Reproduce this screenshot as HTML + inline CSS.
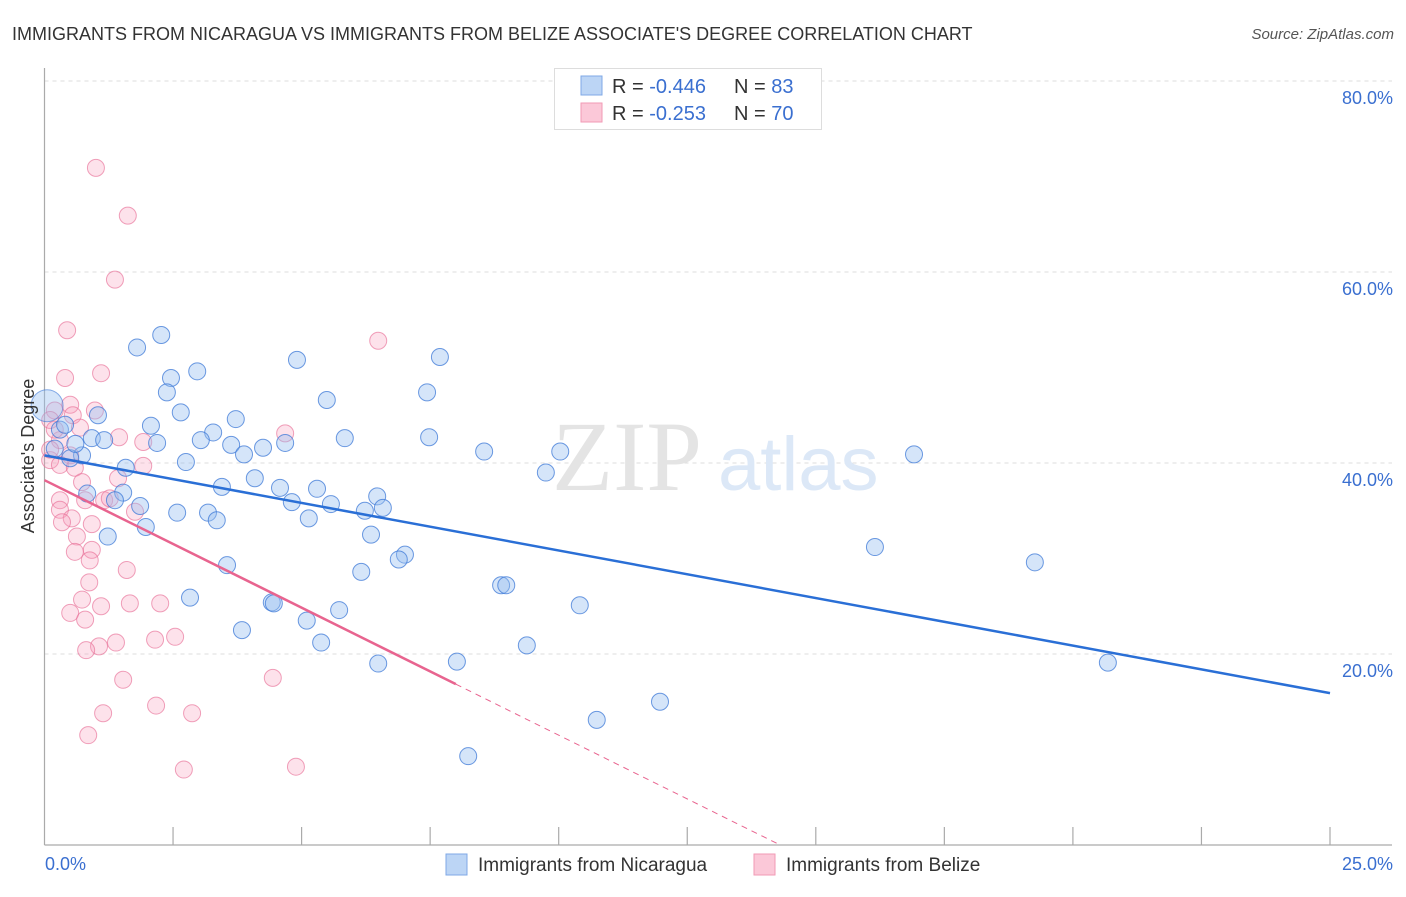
<!DOCTYPE html>
<html><head><meta charset="utf-8">
<style>
html,body{margin:0;padding:0;background:#fff;}
body{width:1406px;height:892px;overflow:hidden;font-family:"Liberation Sans",sans-serif;}
</style></head>
<body>
<svg id="chart" width="1406" height="892" xmlns="http://www.w3.org/2000/svg" font-family="Liberation Sans, sans-serif">
<text x="12" y="40" font-size="18" fill="#333">IMMIGRANTS FROM NICARAGUA VS IMMIGRANTS FROM BELIZE ASSOCIATE'S DEGREE CORRELATION CHART</text>
<text x="1394" y="39" font-size="15" fill="#555" text-anchor="end" font-style="italic">Source: ZipAtlas.com</text>
<g id="grid"></g>
<g>
<text x="552" y="490" font-family="Liberation Serif, serif" font-size="100" fill="#e4e4e4">ZIP</text>
<text x="718" y="490" font-size="76" fill="#dce8f7">atlas</text>
</g>
<line x1="44.5" y1="68" x2="44.5" y2="845" stroke="#aaa" stroke-width="1.2"/>
<line x1="44.5" y1="845" x2="1392" y2="845" stroke="#aaa" stroke-width="1.2"/>
<g id="ticks"></g>
<g id="pink"></g>
<g id="blue"></g>
<g id="lines"></g>
<text transform="translate(34,456) rotate(-90)" font-size="18" fill="#333" text-anchor="middle">Associate's Degree</text>
<text x="45" y="870" font-size="18" fill="#3a6fd0">0.0%</text>
<text x="1393" y="870" font-size="18" fill="#3a6fd0" text-anchor="end">25.0%</text>
<g>
<rect x="554.5" y="68.5" width="267" height="61" fill="#fff" stroke="#ddd"/>
<rect x="581" y="76" width="21" height="19" fill="#bcd5f5" stroke="#7fa8e6"/>
<rect x="581" y="103" width="21" height="19" fill="#fbc8d8" stroke="#f29ab5"/>
<text x="612" y="93" font-size="20" fill="#333">R = <tspan fill="#3a6fd0">-0.446</tspan></text>
<text x="734" y="93" font-size="20" fill="#333">N = <tspan fill="#3a6fd0">83</tspan></text>
<text x="612" y="120" font-size="20" fill="#333">R = <tspan fill="#3a6fd0">-0.253</tspan></text>
<text x="734" y="120" font-size="20" fill="#333">N = <tspan fill="#3a6fd0">70</tspan></text>
</g>
<g>
<rect x="446" y="854" width="21" height="21" fill="#bcd5f5" stroke="#7fa8e6"/>
<text x="478" y="871" font-size="19" fill="#333">Immigrants from Nicaragua</text>
</g>
<g>
<rect x="754" y="854" width="21" height="21" fill="#fbc8d8" stroke="#f29ab5"/>
<text x="786" y="871" font-size="19" fill="#333">Immigrants from Belize</text>
</g>
</svg>
<script>
const yTicks=[20,40,60,80];
const yTickLabels=["20.0%","40.0%","60.0%","80.0%"];
const xTicks=[2.5,5,7.5,10,12.5,15,17.5,20,22.5,25];
const blueX=[2.27,1.80,4.91,7.69,2.97,2.46,2.38,7.44,5.49,2.65,3.72,2.07,1.04,3.28,7.48,5.84,3.04,0.92,1.16,2.19,3.63,4.25,4.68,8.55,10.03,3.88,16.91,0.73,1.58,2.75,9.75,4.09,3.45,4.58,5.30,1.53,0.83,6.47,1.37,1.86,4.81,5.57,6.23,6.58,2.58,3.18,5.14,3.35,1.97,6.35,1.23,16.15,7.01,6.89,19.26,3.55,6.16,8.88,8.98,2.83,10.41,4.42,4.46,5.73,5.10,3.84,5.38,9.38,6.49,8.02,20.68,11.97,10.74,8.24,0.3,0.2,0.5,0.4,0.6];
const blueY=[53.4,52.1,50.8,51.1,49.6,48.9,47.4,47.4,46.6,45.3,44.6,43.9,45.0,43.2,42.7,42.6,42.4,42.6,42.4,42.1,41.9,41.6,42.1,41.2,41.2,40.9,40.9,40.8,39.5,40.1,39.0,38.4,37.5,37.4,37.3,36.9,36.8,36.5,36.1,35.5,35.9,35.7,35.0,35.3,34.8,34.8,34.2,34.0,33.3,32.5,32.3,31.2,30.4,29.9,29.6,29.3,28.6,27.2,27.2,25.9,25.1,25.4,25.3,24.6,23.5,22.5,21.2,20.9,19.0,19.2,19.1,15.0,13.1,9.3,43.5,41.5,40.5,44.0,42.0];
const pinkX=[1.00,1.62,1.37,0.44,6.49,0.40,1.10,0.20,0.50,0.98,0.55,0.11,0.69,4.68,1.45,1.92,0.30,0.50,0.11,0.30,0.59,1.92,1.43,0.73,0.30,0.79,1.16,1.27,1.76,0.30,0.53,0.92,0.34,0.63,0.92,0.59,0.88,0.87,1.60,0.73,0.50,1.10,1.66,2.25,0.79,2.54,1.06,1.39,2.15,0.81,1.53,4.44,1.14,2.87,2.17,0.85,2.71,4.89,0.11,0.20];
const pinkY=[70.9,65.9,59.2,53.9,52.8,48.9,49.4,45.5,46.1,45.5,45.0,44.5,43.7,43.1,42.7,42.2,42.4,40.8,40.3,39.8,39.5,39.7,38.4,38.0,36.1,36.1,36.1,36.3,34.9,35.1,34.2,33.6,33.8,32.3,30.9,30.7,29.8,27.5,28.8,25.7,24.3,25.0,25.3,25.3,23.6,21.8,20.8,21.2,21.5,20.4,17.3,17.5,13.8,13.8,14.6,11.5,7.9,8.2,41.4,43.5];
const blueTrend=[40.8,15.9];
const pinkTrend=[38.2,-2.67];
const pinkSolidEnd=8.0;

const NS="http://www.w3.org/2000/svg";
const X0=44.5,X1=1330,Y0=845,Y80=81;
function sx(v){return X0+v/25*(X1-X0);}
function sy(v){return Y0-v/80*(Y0-Y80);}
function mk(tag,attrs,parent){const e=document.createElementNS(NS,tag);for(const k in attrs)e.setAttribute(k,attrs[k]);parent.appendChild(e);return e;}
const grid=document.getElementById('grid');
yTicks.forEach((t,i)=>{
  const l=mk('line',{x1:X0,x2:1392,y1:sy(t),y2:sy(t),stroke:'#ddd','stroke-dasharray':'4,4'},grid);
  
  
  const tx=mk('text',{x:1393,y:sy(t)+23,'font-size':18,fill:'#3a6fd0','text-anchor':'end'},grid);
  
  
  tx.textContent=yTickLabels[i];
});
const tg=document.getElementById('ticks');
xTicks.forEach(t=>{
  const l=mk('line',{x1:sx(t),x2:sx(t),y1:827,y2:845,stroke:'#aaa','stroke-width':1.2},tg);
  
  
});
const pg=document.getElementById('pink');
pinkX.forEach((x,i)=>{
  const c=mk('circle',{cx:sx(x),cy:sy(pinkY[i]),r:8.5,fill:'rgba(247,160,190,0.3)',stroke:'rgba(232,110,150,0.65)','stroke-width':1},pg);
  
  
});
const bg=document.getElementById('blue');
blueX.forEach((x,i)=>{
  const c=mk('circle',{cx:sx(x),cy:sy(blueY[i]),r:8.5,fill:'rgba(150,190,240,0.4)',stroke:'rgba(60,120,215,0.75)','stroke-width':1},bg);
  
  
});
const big=mk('circle',{cx:sx(0.05),cy:sy(46),r:16,fill:'rgba(150,190,240,0.4)',stroke:'rgba(60,120,215,0.6)'},bg);


const lg=document.getElementById('lines');
const bl=mk('line',{x1:sx(0),y1:sy(blueTrend[0]),x2:sx(25),y2:sy(blueTrend[1]),stroke:'#2a6fd6','stroke-width':2.5},lg);


const zeroX=-pinkTrend[0]/pinkTrend[1];
const pl=mk('line',{x1:sx(0),y1:sy(pinkTrend[0]),x2:sx(pinkSolidEnd),y2:sy(pinkTrend[0]+pinkTrend[1]*pinkSolidEnd),stroke:'#e8648f','stroke-width':2.5},lg);


const pd=mk('line',{x1:sx(pinkSolidEnd),y1:sy(pinkTrend[0]+pinkTrend[1]*pinkSolidEnd),x2:sx(zeroX),y2:sy(0),stroke:'#e8648f','stroke-width':1,'stroke-dasharray':'6,5'},lg);


</script>
</body></html>
